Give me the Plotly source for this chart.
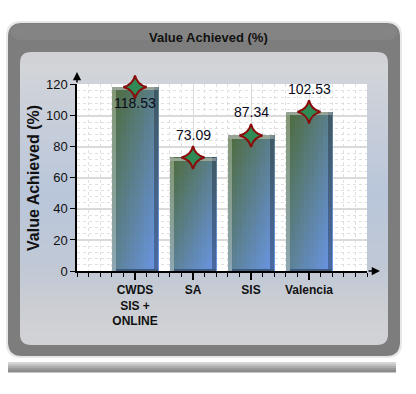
import plotly.graph_objects as go
import numpy as np

# ---------------- data ----------------
categories = ["CWDS<br>SIS +<br>ONLINE", "SA", "SIS", "Valencia"]
values = [118.53, 73.09, 87.34, 102.53]
value_labels = ["118.53", "73.09", "87.34", "102.53"]
y_ticks = [0, 20, 40, 60, 80, 100, 120]
chart_title = "Value Achieved (%)"
y_title = "Value Achieved (%)"

# ---------------- layout constants ----------------
W, H = 416, 394
ML, MR, MT, MB = 77, 49, 84, 123
PW, PH = W - ML - MR, H - MT - MB
FONT = "Arial, 'Liberation Sans', sans-serif"

def X(px):
    return (px - ML) / PW

def Y(py):
    return (H - MB - py) / PH

def hexrgb(h):
    h = h.lstrip("#")
    return tuple(int(h[i:i + 2], 16) for i in (0, 2, 4))

def mix(c0, c1, t):
    a, b = hexrgb(c0), hexrgb(c1)
    return "rgb(%d,%d,%d)" % tuple(round(a[i] + (b[i] - a[i]) * t) for i in range(3))

def shade(c, f):
    r, g, b = [int(v) for v in c[4:-1].split(",")]
    if f >= 0:
        return "rgb(%d,%d,%d)" % (round(r + (255 - r) * f), round(g + (255 - g) * f), round(b + (255 - b) * f))
    return "rgb(%d,%d,%d)" % (round(r * (1 + f)), round(g * (1 + f)), round(b * (1 + f)))

def rrect(x0, y0, x1, y1, r):
    p = [
        "M%f,%f" % (X(x0 + r), Y(y0)),
        "L%f,%f" % (X(x1 - r), Y(y0)),
        "Q%f,%f %f,%f" % (X(x1), Y(y0), X(x1), Y(y0 + r)),
        "L%f,%f" % (X(x1), Y(y1 - r)),
        "Q%f,%f %f,%f" % (X(x1), Y(y1), X(x1 - r), Y(y1)),
        "L%f,%f" % (X(x0 + r), Y(y1)),
        "Q%f,%f %f,%f" % (X(x0), Y(y1), X(x0), Y(y1 - r)),
        "L%f,%f" % (X(x0), Y(y0 + r)),
        "Q%f,%f %f,%f" % (X(x0), Y(y0), X(x0 + r), Y(y0)),
        "Z",
    ]
    return " ".join(p)

shapes = []
# outer gray panel (soft shadow + body)
shapes.append(dict(type="path", xref="paper", yref="paper", path=rrect(6, 21, 402, 358, 15),
                   fillcolor="#e8e8e8", line=dict(width=0), layer="below"))
shapes.append(dict(type="path", xref="paper", yref="paper", path=rrect(8, 23, 400, 356, 14),
                   fillcolor="#7d7d7d", line=dict(width=0), layer="below"))
shapes.append(dict(type="path", xref="paper", yref="paper", path=rrect(10, 24, 398, 40, 12),
                   fillcolor="#848484", line=dict(width=0), layer="below"))
# inner panel base
shapes.append(dict(type="path", xref="paper", yref="paper", path=rrect(20, 52, 388, 345, 11),
                   fillcolor="#d0d2d5", line=dict(width=0), layer="below"))
# inner panel vertical gradient stripes
stops = [(60, "#d3d5d8"), (120, "#c8ceda"), (190, "#b9c6da"), (260, "#bfc8d6"), (300, "#cacdd3"), (337, "#d2d3d5")]
ys = np.arange(63, 335, 4)
for yy in ys:
    for i in range(len(stops) - 1):
        if stops[i][0] <= yy <= stops[i + 1][0]:
            t = (yy - stops[i][0]) / (stops[i + 1][0] - stops[i][0])
            col = mix(stops[i][1], stops[i + 1][1], t)
            break
    shapes.append(dict(type="rect", xref="paper", yref="paper", x0=X(20), x1=X(388),
                       y0=Y(yy), y1=Y(min(yy + 4.6, 335)), fillcolor=col, line=dict(width=0), layer="below"))
# second panel header peeking at bottom
for i, col in enumerate(["#d6d6d6", "#c2c2c2", "#adadad", "#9a9a9a", "#8c8c8c"]):
    shapes.append(dict(type="rect", xref="paper", yref="paper", x0=X(8), x1=X(396),
                       y0=Y(362 + i * 2), y1=Y(364.5 + i * 2), fillcolor=col, line=dict(width=0), layer="below"))
# white plot area
shapes.append(dict(type="rect", xref="paper", yref="paper", x0=0, x1=1, y0=0, y1=1,
                   fillcolor="white", line=dict(width=0), layer="below"))

# ---------------- bars ----------------
xpos = list(range(len(categories)))
bw = 0.79
C0, C1 = "#4d6a38", "#6a96e8"
K, J = 10, 20
traces = []
for k in range(K):
    xs, bases, hs, cols = [], [], [], []
    u = (k + 0.5) / K
    for i, v in enumerate(values):
        for j in range(J):
            vv = (j + 0.5) / J
            t = (u + (1 - vv)) / 2
            xs.append(xpos[i])
            bases.append(v * j / J)
            hs.append(v / J * 1.02)
            cols.append(mix(C0, C1, t))
    traces.append(go.Bar(x=xs, y=hs, base=bases, offset=-bw / 2 + k * bw / K, width=bw / K * 1.15,
                         marker=dict(color=cols, line=dict(width=0)), hoverinfo="skip", showlegend=False))

# bevel edges
edge = 0.07
cap = 2.0
for side in ("left", "right"):
    xs, bases, hs, cols = [], [], [], []
    u = 0.03 if side == "left" else 0.97
    for i, v in enumerate(values):
        for j in range(J):
            vv = (j + 0.5) / J
            t = (u + (1 - vv)) / 2
            c = mix(C0, C1, t)
            xs.append(xpos[i])
            bases.append(v * j / J)
            hs.append(v / J * 1.02)
            cols.append(shade(c, 0.3) if side == "left" else shade(c, -0.3))
    off = -bw / 2 if side == "left" else bw / 2 - edge
    traces.append(go.Bar(x=xs, y=hs, base=bases, offset=off, width=edge,
                         marker=dict(color=cols, line=dict(width=0)), hoverinfo="skip", showlegend=False))
# top cap and bottom strip
traces.append(go.Bar(x=xpos, y=[cap] * len(values), base=[v - cap for v in values], offset=-bw / 2, width=bw - edge,
                     marker=dict(color="#98a596", line=dict(width=0)), hoverinfo="skip", showlegend=False))
traces.append(go.Bar(x=xpos, y=[cap] * len(values), base=[v - cap for v in values], offset=bw / 2 - edge, width=edge,
                     marker=dict(color="#7e8e92", line=dict(width=0)), hoverinfo="skip", showlegend=False))
traces.append(go.Bar(x=xpos, y=[1.6] * len(values), base=[0] * len(values), offset=-bw / 2 + edge, width=bw - edge,
                     marker=dict(color="#41597a", line=dict(width=0)), hoverinfo="skip", showlegend=False))

# star markers
traces.append(go.Scatter(x=xpos, y=values, mode="markers",
                         marker=dict(symbol="star-diamond", size=16.5, color="#2e8b55",
                                     line=dict(color="#8b0a0a", width=2)),
                         hoverinfo="skip", showlegend=False, cliponaxis=False))

fig = go.Figure(traces)

annotations = []
for i, v in enumerate(values):
    below = v > 110
    annotations.append(dict(x=xpos[i], y=v, xref="x", yref="y", text=value_labels[i], showarrow=False,
                            xanchor="center", yanchor="middle",
                            yshift=-16 if below else 23, font=dict(family=FONT, size=14, color="#0a0a1a")))
# title
annotations.append(dict(x=X(208), y=Y(38), xref="paper", yref="paper", text="<b>%s</b>" % chart_title,
                        xanchor="center", yanchor="middle",
                        showarrow=False, font=dict(family=FONT, size=13, color="#111111")))
# y title
annotations.append(dict(x=X(33), y=Y(178), xref="paper", yref="paper", text="<b>%s</b>" % y_title,
                        xanchor="center", yanchor="middle",
                        textangle=-90, showarrow=False, font=dict(family=FONT, size=16, color="#111111")))
# axis arrows
annotations.append(dict(x=-1, y=120.5, xref="x", yref="y", text="", showarrow=True, ax=0, ay=12, yshift=12,
                        arrowhead=2, arrowsize=1.1, arrowwidth=1.5, arrowcolor="black", standoff=0))
annotations.append(dict(x=4, y=0, xref="x", yref="y", text="", showarrow=True, ax=-13, ay=0, xshift=13,
                        arrowhead=2, arrowsize=1.1, arrowwidth=1.5, arrowcolor="black", standoff=0))

fig.update_layout(
    width=W, height=H,
    margin=dict(l=ML, r=MR, t=MT, b=MB, pad=0),
    paper_bgcolor="white",
    plot_bgcolor="rgba(0,0,0,0)",
    barmode="overlay",
    bargap=0,
    shapes=shapes,
    annotations=annotations,
    showlegend=False,
    font=dict(family=FONT, color="#111111"),
)
fig.update_xaxes(
    range=[-1, 4], tickvals=xpos, ticktext=["<b>%s</b>" % c for c in categories],
    tickfont=dict(family=FONT, size=12, color="#111111"),
    ticks="outside", ticklen=7, tickcolor="black", tickwidth=1.5,
    showline=True, linecolor="black", linewidth=1.5,
    showgrid=True, gridcolor="#dadada", gridwidth=1,
    zeroline=False, fixedrange=True,
    minor=dict(dtick=0.2, tick0=0, ticks="outside", ticklen=4, tickcolor="black", tickwidth=1.2,
               showgrid=True, gridcolor="#e0e0e0", griddash="dot", gridwidth=1),
)
fig.update_yaxes(
    range=[0, 120.5], tickvals=y_ticks,
    tickfont=dict(family=FONT, size=13, color="#111111"),
    ticks="outside", ticklen=5, tickcolor="black", tickwidth=1.2,
    showline=True, linecolor="black", linewidth=1.5,
    showgrid=True, gridcolor="#dadada", gridwidth=1.5,
    zeroline=False, fixedrange=True,
    minor=dict(dtick=4, tick0=0, ticks="", showgrid=True, gridcolor="#e0e0e0", griddash="dot", gridwidth=1),
)

fig.write_html("out.html")
